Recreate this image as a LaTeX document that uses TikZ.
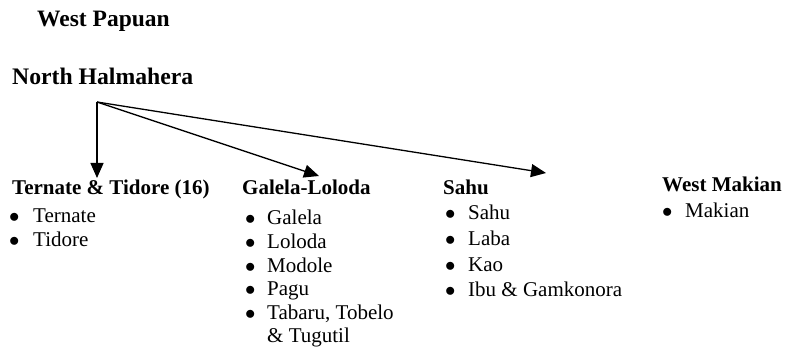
\documentclass[tikz,border=0pt]{standalone}
\usepackage{fontspec}
\setmainfont{Liberation Serif}
\usetikzlibrary{arrows.meta}
\newcommand{\langlist}[2]{\begin{tabular}[t]{@{}p{#1}@{}l@{}}#2\end{tabular}}
\newcommand{\itm}{$\bullet$}

\begin{document}
\begin{tikzpicture}[x=1pt, y=-1pt,
    group/.style={anchor=base west, inner sep=0pt, font=\fontsize{21}{24}\selectfont\bfseries},
    langs/.style={anchor=base west, inner sep=0pt, font=\fontsize{21}{#1}\selectfont},
    branch/.style={-{Triangle[length=15pt, width=13pt]}, line width=1.3pt}]
    \useasboundingbox (0,0) rectangle (787,352);

    \node (family) [group, font=\fontsize{23.5}{24}\selectfont\bfseries] at (37, 27) {West Papuan};
    \node (nh) [group, font=\fontsize{23.7}{24}\selectfont\bfseries] at (12, 85) {North Halmahera};

    % subgroups
    \node (tt) [group] at (12, 195) {Ternate \& Tidore (16)};
    \node (gl) [group] at (242, 195) {Galela-Loloda};
    \node (sahu) [group] at (443, 195) {Sahu};
    \node (wm) [group] at (662, 192) {West Makian};

    \node (ttlist) [langs=24] at (9, 223) {\langlist{24pt}{%
        \itm & Ternate\\ \itm & Tidore}};
    \node (gllist) [langs=23.6] at (245, 225) {\langlist{22pt}{%
        \itm & Galela\\ \itm & Loloda\\ \itm & Modole\\
        \itm & Pagu\\ \itm & Tabaru, Tobelo\\ & \& Tugutil}};
    \node (sahulist) [langs=25.6] at (445, 220) {\langlist{23pt}{%
        \itm & Sahu\\ \itm & Laba\\ \itm & Kao\\
        \itm & Ibu \& Gamkonora}};
    \node (wmlist) [langs=24] at (662, 218) {\langlist{23pt}{%
        \itm & Makian}};

    % branches
    \coordinate (root) at (97, 102);
    \coordinate (to-tt) at (97, 178);
    \coordinate (to-gl) at (319, 176);
    \coordinate (to-sahu) at (546, 173);
    \draw[branch] (root) -- (to-tt);
    \draw[branch] (root) -- (to-gl);
    \draw[branch] (root) -- (to-sahu);
\end{tikzpicture}
\end{document}
